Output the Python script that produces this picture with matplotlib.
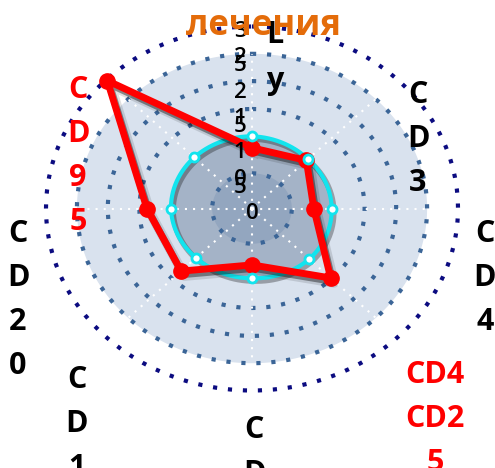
import numpy as np
import matplotlib
matplotlib.use('Agg')
import matplotlib.pyplot as plt
from matplotlib import patheffects as pe
from matplotlib.transforms import offset_copy

# Подписи осей (перенос по строкам как в исходной диаграмме)
categories = ["L\ny", "C\nD\n3", "C\nD\n4", "CD4\nCD2\n5",
              "C\nD", "C\nD\n1", "C\nD\n2\n0", "C\nD\n9\n5"]
red_cats = ["CD4\nCD2\n5", "C\nD\n9\n5"]

# Ряды значений
red_vals = [1.0, 1.12, 0.90, 1.62, 0.93, 1.46, 1.53, 2.98]
cyan_vals = [1.19, 1.15, 1.16, 1.18, 1.15, 1.15, 1.18, 1.19]
inner_vals = [0.58, 0.58, 0.58, 0.58, 0.58, 0.58, 0.58, 0.58]
back_vals = [2.55, 2.55, 2.55, 2.55, 2.55, 2.55, 2.55, 2.55]

# Радиальная шкала и сетка
r_ticks = [0, 0.5, 1, 1.5, 2, 2.5, 3]
r_tick_labels = ["0", "0,5", "1", "1,5", "2", "2,5", "3"]
grid_levels = [0.58, 1.64, 2.1, 2.55]
outer_level = 3.0

title = "лечения"

W, H = 495, 468
cx, cy = 252, 208.5
rx, ry = 206, 182

fig = plt.figure(figsize=(W / 100, H / 100), dpi=100)
ax = fig.add_axes([(cx - rx) / W, (H - cy - ry) / H, 2 * rx / W, 2 * ry / H],
                  projection='polar')
ax.set_aspect('auto')
ax.set_theta_zero_location('N')
ax.set_theta_direction(-1)
ax.set_ylim(0, outer_level)
ax.set_axis_off()

n = len(categories)
theta = np.arange(n) * 2 * np.pi / n
theta_c = np.append(theta, 2 * np.pi)
th = np.linspace(0, 2 * np.pi, 721)


def smooth(vals):
    v = np.append(vals, vals[0])
    return np.interp(th, theta_c, v)


# фон
ax.fill(th, smooth(back_vals), color='#d9e2ee', lw=0, zorder=1)

# голубой ряд (сглаженный) и внутренний круг
shadow = [pe.Stroke(offset=(1.5, -2), linewidth=4, foreground='k', alpha=0.3),
          pe.Normal()]
ax.fill(th, smooth(cyan_vals), color='#a4b3c7', lw=0, zorder=2)
ax.fill(th, smooth(inner_vals), color='#93a6bf', lw=0, zorder=2.1)

# сетка
for lev in grid_levels:
    ax.plot(th, np.full_like(th, lev), color='#3b6597', lw=3,
            ls=(0, (1, 2.6)), dash_capstyle='butt', zorder=3)
ax.plot(th, np.full_like(th, outer_level), color='#0b0b80', lw=3,
        ls=(0, (1, 2.6)), dash_capstyle='butt', zorder=3, clip_on=False)
for t in theta:
    ax.plot([t, t], [0, back_vals[0]], color='white', lw=1.5,
            ls=(0, (1, 2.9)), zorder=3)

ax.plot(th, smooth(cyan_vals), color='#12e4ee', lw=3, zorder=4,
        path_effects=shadow)

# красный ряд
red_shadow = [pe.Stroke(offset=(2.5, -3.5), linewidth=7, foreground='k', alpha=0.12),
              pe.Stroke(offset=(1.5, -2.5), linewidth=5, foreground='k', alpha=0.4),
              pe.Normal()]
rv = np.append(red_vals, red_vals[0])
ax.plot(theta_c, rv, color='#ff0000', lw=5, zorder=6, clip_on=False,
        path_effects=red_shadow, solid_joinstyle='round')
ax.plot(theta, red_vals, ls='none', marker='o', ms=11, color='#ff0000',
        zorder=6.5, clip_on=False)

ax.plot(theta, cyan_vals, ls='none', marker='o', ms=6.5, mfc='white',
        mec='#12e4ee', mew=2, zorder=7)

# подписи радиальной шкалы
lab_tr = offset_copy(ax.transData, fig=fig, x=-12, y=-5, units='dots')
zero_tr = offset_copy(ax.transData, fig=fig, x=0, y=-5, units='dots')
for val, txt in zip(r_ticks, r_tick_labels):
    ax.text(0, val, "\n".join(txt.split(",")),
            transform=lab_tr if val > 0 else zero_tr, ha='center',
            va='center', fontsize=16, linespacing=0.2, color='black',
            family='Open Sans', fontweight='semibold', zorder=8, clip_on=False)

# подписи категорий
label_pos = [(275, 43, 46), (418, 103, 44), (485, 242, 44), (435, 383, 44),
             (254, 438, 44), (77, 388, 44), (18, 242, 44), (78, 98, 44)]
for cat, (x, y0, step) in zip(categories, label_pos):
    col = '#ff0000' if cat in red_cats else 'black'
    for i, line in enumerate(cat.split("\n")):
        fig.text(x / W, 1 - (y0 + i * step) / H, line, ha='center',
                 va='baseline', fontsize=22, fontweight='bold', color=col,
                 family='Open Sans')

fig.text(264 / W, 1 - 35 / H, title, ha='center', va='baseline', fontsize=25,
         fontweight='bold', color='#e46c0a', family='Open Sans', zorder=10)

fig.savefig('out.png', dpi=100)
